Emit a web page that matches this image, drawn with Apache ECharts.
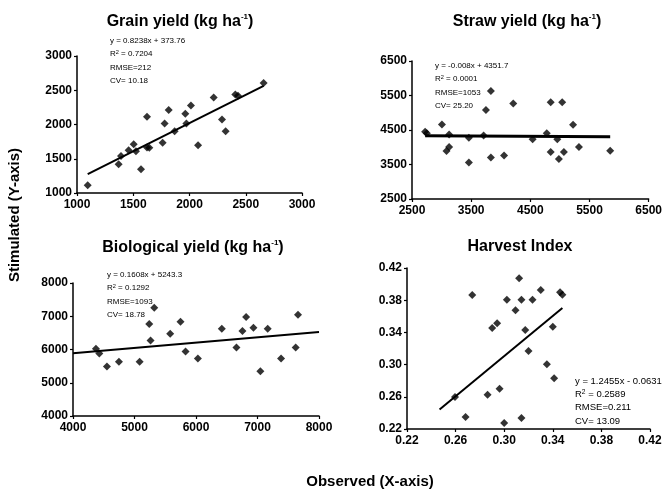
<!DOCTYPE html>
<html>
<head>
<meta charset="utf-8">
<script src="https://cdn.jsdelivr.net/npm/echarts@6/dist/echarts.min.js"></script>
<style>
  html, body { margin: 0; padding: 0; background: #fff; }
  #main { width: 665px; height: 489px; }
</style>
</head>
<body>
<div id="main"></div>
<script>
  // observed (x) and simulated (y) values
  let grainObs = [1095, 1391, 1370, 1459, 1504, 1524, 1569, 1622, 1622, 1643, 1761, 1779, 1815, 1868, 1963, 1972, 2013, 2076, 2215, 2289, 2321, 2407, 2431, 2659];
  let grainSim = [1112, 1541, 1420, 1624, 1712, 1610, 1346, 2112, 1663, 1659, 1732, 2015, 2210, 1902, 2156, 2015, 2278, 1698, 2395, 2073, 1902, 2439, 2420, 2605];

  let strawObs = [2722, 2750, 3006, 3083, 3128, 3128, 3461, 3461, 3711, 3750, 3833, 3833, 4056, 4211, 4539, 4778, 4844, 4844, 4956, 4983, 5039, 5067, 5222, 5322, 5850];
  let strawSim = [4447, 4408, 4659, 3888, 4004, 4370, 3560, 4273, 4341, 5083, 5633, 3705, 3763, 5266, 4235, 4408, 5305, 3859, 4235, 3657, 5305, 3859, 4649, 4004, 3898];

  let bioObs = [4373, 4428, 4552, 4747, 5083, 5240, 5261, 5321, 5580, 5748, 5830, 6030, 6420, 6658, 6755, 6815, 6934, 7047, 7166, 7383, 7621, 7659];
  let bioSim = [6020, 5879, 5487, 5628, 5628, 6764, 6271, 7256, 6472, 6834, 5940, 5729, 6623, 6060, 6553, 6975, 6653, 5347, 6623, 5729, 6060, 7045];

  let hiObs = [0.2595, 0.2682, 0.2737, 0.2863, 0.2901, 0.2942, 0.2962, 0.3000, 0.3022, 0.3093, 0.3123, 0.3142, 0.3142, 0.3173, 0.3200, 0.3233, 0.3301, 0.3351, 0.3400, 0.3411, 0.3460, 0.3479];
  let hiSim = [0.2598, 0.2349, 0.3865, 0.2627, 0.3455, 0.3513, 0.2701, 0.2275, 0.3807, 0.3674, 0.4072, 0.3807, 0.2337, 0.3430, 0.3169, 0.3807, 0.3927, 0.3003, 0.3471, 0.2829, 0.3898, 0.3869];

  // linear fits: [slope, intercept] and x range the line is drawn over
  let fitCoef = [[0.8238, 373.76], [-0.008, 4351.7], [0.1608, 5243.3], [1.2455, -0.0631]];
  let fitRange = [[1095, 2659], [2722, 5850], [4000, 8000], [0.2468, 0.3479]];

  let titles = ['Grain yield (kg ha', 'Straw yield (kg ha', 'Biological yield (kg ha', 'Harvest Index'];
  let eqText = [
    ['y = 0.8238x + 373.76', '0.7204', 'RMSE=212', 'CV= 10.18'],
    ['y = -0.008x + 4351.7', '0.0001', 'RMSE=1053', 'CV= 25.20'],
    ['y = 0.1608x + 5243.3', '0.1292', 'RMSE=1093', 'CV= 18.78'],
    ['y = 1.2455x - 0.0631', '0.2589', 'RMSE=0.211', 'CV= 13.09']
  ];

  // axis ranges: [min, max, interval]
  let axisX = [[1000, 3000, 500], [2500, 6500, 1000], [4000, 8000, 1000], [0.22, 0.42, 0.04]];
  let axisY = [[1000, 3000, 500], [2500, 6500, 1000], [4000, 8000, 1000], [0.22, 0.42, 0.04]];

  let obs = [grainObs, strawObs, bioObs, hiObs];
  let sim = [grainSim, strawSim, bioSim, hiSim];

  let font = 'Liberation Sans, Arial, sans-serif';
  let grids = [
    {left: 77, top: 56, width: 225, height: 137},
    {left: 412, top: 61, width: 240, height: 138},
    {left: 73, top: 283, width: 246, height: 133},
    {left: 407, top: 268, width: 243, height: 161}
  ];
  let titlePos = [[180, 22], [527, 22], [193, 248], [520, 247]];
  let eqPos = [[110, 41, 8], [435, 66, 8], [107, 275, 8], [575, 381, 9.5]];
  let fitWidth = [2, 3, 2, 2];

  let xAxes = [], yAxes = [], series = [], graphics = [];

  for (let i = 0; i < 4; i++) {
    let dec = i === 3 ? 2 : 0;
    let common = {
      gridIndex: i,
      type: 'value',
      splitLine: {show: false},
      axisLine: {onZero: false, lineStyle: {color: '#000', width: 1.5}},
      axisTick: {show: true, inside: false, length: 3, lineStyle: {color: '#000', width: 1.2}},
      axisLabel: {
        color: '#000', fontWeight: 'bold', fontSize: 12, fontFamily: font,
        formatter: (v) => v.toFixed(dec)
      }
    };
    xAxes.push(Object.assign({}, common, {
      min: axisX[i][0], max: axisX[i][1], interval: axisX[i][2],
      axisLabel: Object.assign({}, common.axisLabel, {margin: 6})
    }));
    yAxes.push(Object.assign({}, common, {
      min: axisY[i][0], max: axisY[i][1], interval: axisY[i][2],
      axisLabel: Object.assign({}, common.axisLabel, {margin: 5})
    }));

    let pts = obs[i].map((x, k) => [x, sim[i][k]]);
    series.push({
      type: 'scatter', xAxisIndex: i, yAxisIndex: i,
      symbol: 'diamond', symbolSize: 8,
      itemStyle: {color: '#000'},
      data: pts
    });

    let c = fitCoef[i];
    let line = fitRange[i].map(x => [x, c[0] * x + c[1]]);
    series.push({
      type: 'line', xAxisIndex: i, yAxisIndex: i,
      symbol: 'none', silent: true,
      lineStyle: {color: '#000', width: fitWidth[i]},
      data: line
    });

    // panel title, with superscript -1 for the yield panels
    let t = i === 3 ? '{t|' + titles[i] + '}' : '{t|' + titles[i] + '}{s|-1}{t|)}';
    graphics.push({
      type: 'text', x: titlePos[i][0], y: titlePos[i][1],
      style: {
        text: t, align: 'center', verticalAlign: 'middle',
        rich: {
          t: {fontFamily: font, fontWeight: 'bold', fontSize: 16, color: '#000', lineHeight: 18},
          s: {fontFamily: font, fontWeight: 'bold', fontSize: 8, color: '#000', lineHeight: 18, verticalAlign: 'top', padding: [0, 0, 6, 0]}
        }
      }
    });

    // regression text
    let e = eqText[i];
    let fs = eqPos[i][2];
    let gap = i === 3 ? 13.3 : 13.2;
    let lines = [e[0], 'R{s|2} = ' + e[1], e[2], e[3]];
    lines.forEach((txt, k) => {
      graphics.push({
        type: 'text', x: eqPos[i][0], y: eqPos[i][1] + k * gap,
        style: {
          text: k === 1 ? '{n|R}{s|2}{n| = ' + e[1] + '}' : '{n|' + txt + '}',
          align: 'left', verticalAlign: 'middle',
          rich: {
            n: {fontFamily: font, fontSize: fs, color: '#222', lineHeight: fs + 2},
            s: {fontFamily: font, fontSize: fs * 0.7, color: '#222', lineHeight: fs + 2, verticalAlign: 'top'}
          }
        }
      });
    });
  }

  graphics.push({
    type: 'text', x: 15, y: 215, rotation: Math.PI / 2,
    style: {text: 'Stimulated (Y-axis)', align: 'center', verticalAlign: 'middle',
      font: 'bold 15px ' + font, fill: '#000'}
  });
  graphics.push({
    type: 'text', x: 370, y: 482,
    style: {text: 'Observed (X-axis)', align: 'center', verticalAlign: 'middle',
      font: 'bold 15px ' + font, fill: '#000'}
  });

  let myChart = echarts.init(document.getElementById('main'));
  myChart.setOption({
    backgroundColor: '#fff',
    animation: false,
    grid: grids,
    xAxis: xAxes,
    yAxis: yAxes,
    series: series,
    graphic: graphics
  });
</script>
</body>
</html>
